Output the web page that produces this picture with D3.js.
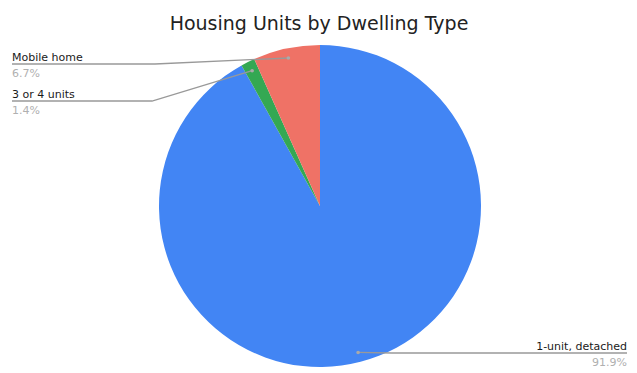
<!DOCTYPE html>
<html>
<head>
<meta charset="utf-8">
<script src="https://cdn.jsdelivr.net/npm/d3@7"></script>
<style>
  html, body { margin: 0; padding: 0; background: #fff; }
  svg { display: block; font-family: "DejaVu Sans", Verdana, sans-serif; }
</style>
</head>
<body>
<svg id="chart" width="637" height="373"></svg>
<script>
// Dwelling types, drawn clockwise from 12 o'clock
const categories = ["1-unit, detached", "3 or 4 units", "Mobile home"];
const values = [91.9, 1.4, 6.7];
const percentLabels = ["91.9%", "1.4%", "6.7%"];
const colors = ["#4285f4", "#34a853", "#ef7266"];

const width = 637, height = 373;
const cx = 320, cy = 206, radius = 161;

const svg = d3.select("#chart");

svg.append("text")
  .attr("x", 319)
  .attr("y", 30)
  .attr("text-anchor", "middle")
  .attr("font-size", 19)
  .attr("fill", "#222")
  .text("Housing Units by Dwelling Type");

const pie = d3.pie().sort(null).value(d => d)(values);
const arc = d3.arc().innerRadius(0).outerRadius(radius);
const markArc = d3.arc().innerRadius(radius * 0.94).outerRadius(radius * 0.94);

const g = svg.append("g").attr("transform", `translate(${cx},${cy})`);

g.selectAll("path.slice")
  .data(pie)
  .join("path")
  .attr("class", "slice")
  .attr("d", arc)
  .attr("fill", (d, i) => colors[i]);

// Label layout: where each label sits and where its leader line bends
const labelLayout = [
  { side: "right", textX: 627, underlineY: 353, elbowX: 392 },
  { side: "left",  textX: 12,  underlineY: 101, elbowX: 152 },
  { side: "left",  textX: 12,  underlineY: 64,  elbowX: 155 }
];

const labels = svg.append("g");
pie.forEach((d, i) => {
  const L = labelLayout[i];
  const [mx, my] = markArc.centroid(d);
  const px = cx + mx, py = cy + my;
  const pts = [[px, py], [L.elbowX, L.underlineY], [L.textX, L.underlineY]];
  labels.append("path")
    .attr("d", d3.line()(pts))
    .attr("fill", "none")
    .attr("stroke", "#999")
    .attr("stroke-width", 1.3);
  labels.append("circle")
    .attr("cx", px).attr("cy", py).attr("r", 1.8)
    .attr("fill", "#aaa");
  const anchor = L.side === "left" ? "start" : "end";
  labels.append("text")
    .attr("x", L.textX)
    .attr("y", L.underlineY - 3)
    .attr("text-anchor", anchor)
    .attr("font-size", 11)
    .attr("fill", "#1a1a1a")
    .text(categories[i]);
  labels.append("text")
    .attr("x", L.textX)
    .attr("y", L.underlineY + 13)
    .attr("text-anchor", anchor)
    .attr("font-size", 11)
    .attr("fill", "#b0b0b0")
    .text(percentLabels[i]);
});
</script>
</body>
</html>
